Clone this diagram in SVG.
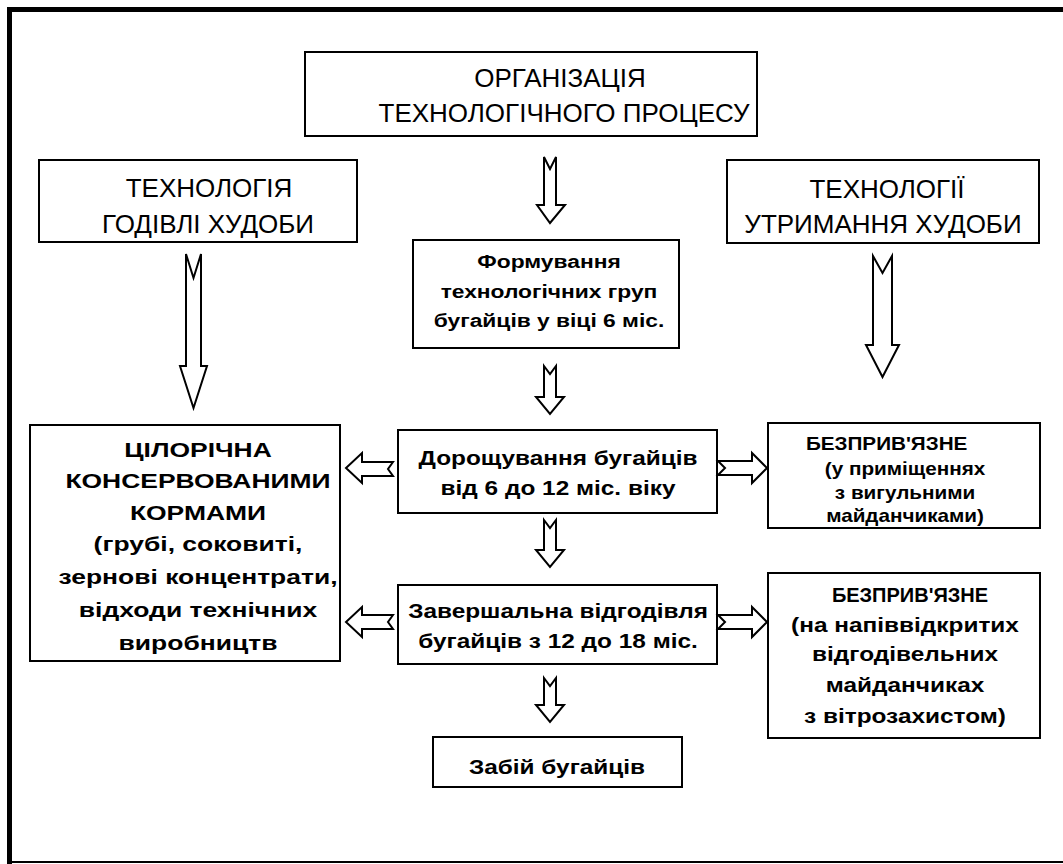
<svg xmlns="http://www.w3.org/2000/svg" width="1063" height="864" viewBox="0 0 1063 864">
<style>
.box{fill:#fff;stroke:#000;stroke-width:2}
.arr{fill:#fff;stroke:#000;stroke-width:2;stroke-linejoin:miter}
.t{font-family:"Liberation Sans",Arial,sans-serif;font-size:26px;fill:#000;text-anchor:middle}
.b{font-family:"Liberation Sans",Arial,sans-serif;font-size:19px;font-weight:bold;fill:#000;text-anchor:middle}
.b1{font-family:"Liberation Sans",Arial,sans-serif;font-size:18px;font-weight:bold;fill:#000;text-anchor:middle}
.b2{font-family:"Liberation Sans",Arial,sans-serif;font-size:20px;font-weight:bold;fill:#000;text-anchor:middle}
.b3{font-family:"Liberation Sans",Arial,sans-serif;font-size:21px;font-weight:bold;fill:#000;text-anchor:middle}
</style>
<rect x="0" y="0" width="1063" height="864" fill="#fff"/>
<g id="frame">
<rect x="7" y="7" width="1056" height="5" fill="#000"/>
<rect x="7" y="7" width="5" height="857" fill="#000"/>
<rect x="7" y="861" width="1056" height="2" fill="#000"/>
</g>
<g id="n-org">
<rect class="box" x="305" y="52" width="452" height="84"/>
<text class="t" x="560" y="87">ОРГАНІЗАЦІЯ</text>
<text class="t" x="564" y="122">ТЕХНОЛОГІЧНОГО ПРОЦЕСУ</text>
</g>
<g id="n-feed">
<rect class="box" x="39" y="160" width="318" height="82"/>
<text class="t" x="209" y="197">ТЕХНОЛОГІЯ</text>
<text class="t" x="208" y="233">ГОДІВЛІ ХУДОБИ</text>
</g>
<g id="n-keep">
<rect class="box" x="727" y="160" width="312" height="83"/>
<text class="t" x="887" y="198">ТЕХНОЛОГІЇ</text>
<text class="t" x="883" y="233">УТРИМАННЯ ХУДОБИ</text>
</g>
<g id="n-form">
<rect class="box" x="413" y="240" width="266" height="108"/>
<g transform="translate(549 0) scale(1.2 1)">
<text class="b" x="0" y="268">Формування</text>
<text class="b" x="0" y="298">технологічних груп</text>
<text class="b" x="0" y="327">бугайців у віці 6 міс.</text>
</g>
</g>
<g id="n-grow">
<rect class="box" x="398" y="430" width="319" height="83"/>
<g transform="translate(558 0) scale(1.22 1)">
<text class="b2" x="0" y="465">Дорощування бугайців</text>
<text class="b2" x="0" y="495">від 6 до 12 міс. віку</text>
</g>
</g>
<g id="n-finish">
<rect class="box" x="398" y="585" width="319" height="79"/>
<g transform="translate(558 0) scale(1.22 1)">
<text class="b2" x="0" y="618">Завершальна відгодівля</text>
<text class="b2" x="0" y="648">бугайців з 12 до 18 міс.</text>
</g>
</g>
<g id="n-slaughter">
<rect class="box" x="433" y="737" width="249" height="50"/>
<g transform="translate(557 0) scale(1.22 1)">
<text class="b2" x="0" y="774">Забій бугайців</text>
</g>
</g>
<g id="n-ration">
<rect class="box" x="30" y="425" width="310" height="236"/>
<g transform="translate(198 0) scale(1.26 1)">
<text class="b3" x="0" y="457">ЦІЛОРІЧНА</text>
<text class="b3" x="0" y="488">КОНСЕРВОВАНИМИ</text>
<text class="b3" x="0" y="520">КОРМАМИ</text>
<text class="b3" x="0" y="551">(грубі, соковиті,</text>
<text class="b3" x="0" y="584">зернові концентрати,</text>
<text class="b3" x="0" y="617">відходи технічних</text>
<text class="b3" x="0" y="650">виробництв</text>
</g>
</g>
<g id="n-loose1">
<rect class="box" x="768" y="423" width="272" height="105"/>
<g transform="translate(0 0) scale(1.15 1)">
<text class="b1" x="771" y="450">БЕЗПРИВ'ЯЗНЕ</text>
<text class="b1" x="787" y="475">(у приміщеннях</text>
<text class="b1" x="787" y="499">з вигульними</text>
<text class="b1" x="787" y="522">майданчиками)</text>
</g>
</g>
<g id="n-loose2">
<rect class="box" x="768" y="573" width="272" height="165"/>
<text class="b2" x="910" y="602">БЕЗПРИВ'ЯЗНЕ</text>
<g transform="translate(905 0) scale(1.22 1)">
<text class="b2" x="0" y="632">(на напіввідкритих</text>
<text class="b2" x="0" y="661">відгодівельних</text>
<text class="b2" x="0" y="692">майданчиках</text>
<text class="b2" x="0" y="723">з вітрозахистом)</text>
</g>
</g>
<g id="connectors">
<polygon class="arr" points="544,157 550,169 556,157 556,205 565,205 550,223 537,205 544,205"/>
<polygon class="arr" points="186,254 193.5,278 201,254 201,366 207,366 193.5,408 180,366 186,366"/>
<polygon class="arr" points="873,256 882.5,273 892,256 892,345 899,345 882.5,377 866,345 873,345"/>
<polygon class="arr" points="544,366 550,374 556,366 556,397 564,397 550,414 536,397 544,397"/>
<polygon class="arr" points="544,520 550,528 556,520 556,550 564,550 550,567 536,550 544,550"/>
<polygon class="arr" points="544,678 550,686 556,678 556,705 564,705 550,722 536,705 544,705"/>
<polygon class="arr" points="393,462 388,469 393,476 362,476 362,483 346,468 362,453 362,462"/>
<polygon class="arr" points="718,461 725,468 718,475 752,475 752,483 767,468 752,453 752,461"/>
<polygon class="arr" points="393,615 388,622 393,629 362,629 362,637 346,622 362,607 362,615"/>
<polygon class="arr" points="718,615 725,622 718,629 752,629 752,637 767,622 752,607 752,615"/>
</g>
</svg>
